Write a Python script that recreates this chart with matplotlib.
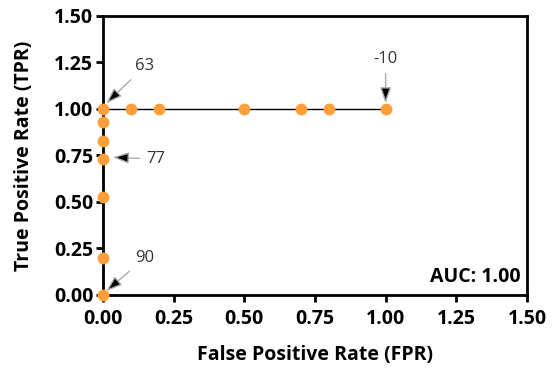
import matplotlib.pyplot as plt

plt.rcParams['font.family'] = ['Open Sans', 'DejaVu Sans']

fpr = [0, 0, 0, 0, 0, 0, 0, 0.1, 0.2, 0.5, 0.7, 0.8, 1.0]
tpr = [0, 0.2, 0.525, 0.73, 0.83, 0.93, 1.0, 1.0, 1.0, 1.0, 1.0, 1.0, 1.0]
ticks = [0, 0.25, 0.5, 0.75, 1.0, 1.25, 1.5]
# (label, point, text position)
notes = [("63", (0.012, 1.03), (0.115, 1.23)),
         ("77", (0.035, 0.74), (0.155, 0.73)),
         ("90", (0.012, 0.02), (0.115, 0.20)),
         ("-10", (1.0, 1.03), (1.0, 1.27))]
auc = 1.00

fig = plt.figure(figsize=(5.53, 3.70), dpi=100)
ax = fig.add_axes([0.186, 0.203, 0.767, 0.754])
ax.plot(fpr, tpr, color='black', lw=1, zorder=2, clip_on=False)
ax.plot(fpr, tpr, 'o', color='#FF9F3A', ms=7.5, zorder=3, clip_on=False)

ax.set_xlim(0, 1.5)
ax.set_ylim(0, 1.5)
ax.set_xticks(ticks)
ax.set_yticks(ticks)
ax.set_xticklabels(['%.2f' % t for t in ticks], fontweight='bold', fontsize=14)
ax.set_yticklabels(['%.2f' % t for t in ticks], fontweight='bold', fontsize=14)
ax.tick_params(width=2, length=5, direction='out', pad=2)
ax.tick_params(axis='x', pad=5)
for s in ax.spines.values():
    s.set_linewidth(2)
ax.set_xlabel('False Positive Rate (FPR)', fontweight='bold', fontsize=14, labelpad=12)
ax.set_ylabel('True Positive Rate (TPR)', fontweight='bold', fontsize=14, labelpad=14)

for lab, xy, xyt in notes:
    ax.annotate(lab, xy=xy, xytext=xyt, fontsize=12, color='#333333',
                ha='left' if lab != '-10' else 'center', va='center',
                arrowprops=dict(arrowstyle='-|>,head_length=0.8,head_width=0.28',
                                fc='black', ec='#aaaaaa', lw=1, shrinkA=3, shrinkB=0),
                annotation_clip=False, zorder=4)

ax.text(0.985, 0.03, 'AUC: %.2f' % auc, transform=ax.transAxes, ha='right', va='bottom',
        fontweight='bold', fontsize=14)

fig.savefig('out.png', dpi=100)
